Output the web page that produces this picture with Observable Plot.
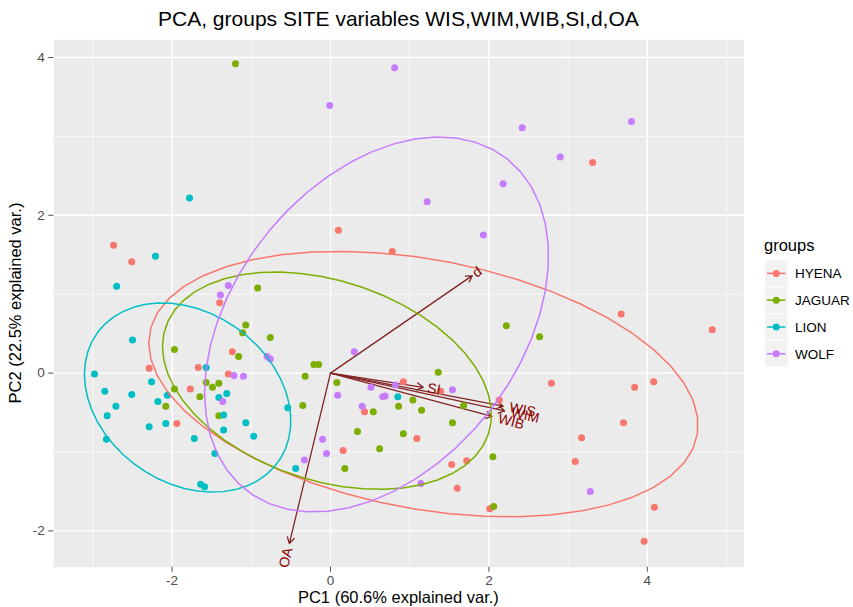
<!DOCTYPE html>
<html><head><meta charset="utf-8">
<script src="https://cdn.jsdelivr.net/npm/d3@7"></script>
<script src="https://cdn.jsdelivr.net/npm/@observablehq/plot@0.6"></script>
<style>body{margin:0;background:#fff;}</style>
</head><body><div id="chart"></div>
<script>
const groups = ["HYENA","JAGUAR","LION","WOLF"];
const colors = ["#F8766D","#7CAE00","#00BFC4","#C77CFF"];

const hyenaPC1 = [-2.74,-2.51,-1.40,0.10,0.78,3.31,3.67,4.82,2.79,3.84,4.08,3.70,3.17,3.09,4.09,3.96,2.01,2.13,-1.24,-1.67,-1.29,-1.77,-2.29,-1.94,0.92,1.39,0.43,1.09,0.16,1.53,1.72,1.60];
const hyenaPC2 = [1.62,1.41,0.89,1.81,1.54,2.67,0.75,0.55,-0.13,-0.18,-0.11,-0.63,-0.82,-1.12,-1.70,-2.13,-1.72,-0.34,0.27,0.07,-0.01,-0.20,0.06,-0.64,-0.11,-0.23,-0.49,-0.83,-0.98,-1.16,-1.11,-1.46];
const jaguarPC1 = [-1.20,-0.92,-1.07,-1.11,-0.76,-1.16,-1.97,-1.97,-1.57,-1.49,-1.41,-1.65,-2.08,-1.41,-0.21,-0.15,-0.32,-0.35,0.08,1.36,1.04,0.86,1.15,0.54,1.68,1.54,0.34,0.92,0.62,0.18,2.05,2.06,2.22,2.64];
const jaguarPC2 = [3.92,1.08,0.61,0.51,0.45,0.21,0.30,-0.20,-0.12,-0.18,-0.13,-0.30,-0.42,-0.54,0.11,0.11,-0.04,-0.41,-0.12,0.01,-0.34,-0.42,-0.47,-0.49,-0.41,-0.63,-0.74,-0.77,-0.96,-1.21,-1.06,-1.69,0.60,0.46];
const lionPC1 = [-1.78,-2.21,-2.70,-2.50,-2.98,-2.26,-1.57,-2.85,-2.51,-2.71,-2.82,-2.18,-2.06,-1.41,-1.31,-2.83,-2.29,-2.08,-1.35,-1.35,-1.07,-0.97,-1.72,-1.46,-1.64,-1.59,-0.54,-0.44,0.85];
const lionPC2 = [2.22,1.48,1.10,0.42,-0.01,-0.11,0.07,-0.23,-0.27,-0.42,-0.54,-0.36,-0.28,-0.31,-0.26,-0.84,-0.68,-0.64,-0.53,-0.72,-0.63,-0.80,-0.83,-1.02,-1.41,-1.44,-0.44,-1.21,-0.30];
const wolfPC1 = [0.81,-0.01,2.42,3.80,2.90,2.18,1.22,1.93,-1.29,-1.39,-0.80,-0.76,-1.22,-1.10,-1.36,0.30,0.09,0.51,0.82,1.54,0.66,0.69,0.40,-0.10,-0.05,-0.33,1.14,3.28];
const wolfPC2 = [3.87,3.39,3.11,3.19,2.74,2.40,2.17,1.75,1.11,0.99,0.21,0.18,-0.03,-0.04,-0.36,0.27,-0.28,-0.18,-0.15,-0.21,-0.30,-0.29,-0.42,-0.84,-1.02,-1.10,-1.40,-1.50];

const varNames = ["WIS","WIM","WIB","SI","d","OA"];
const varPC1 = [2.18,2.20,2.04,1.17,1.79,-0.52];
const varPC2 = [-0.42,-0.48,-0.55,-0.18,1.235,-2.16];

const xMajor = [-2,0,2,4], xMinor = [-3,-1,1,3,5];
const yMajor = [-2,0,2,4], yMinor = [-1,1,3];
const ellipseProb = 0.68;

const pc1s = [hyenaPC1, jaguarPC1, lionPC1, wolfPC1];
const pc2s = [hyenaPC2, jaguarPC2, lionPC2, wolfPC2];
const pts = [];
groups.forEach((g,i)=>pc1s[i].forEach((x,j)=>pts.push({group:g, x, y:pc2s[i][j]})));

// ggbiplot-style normal data ellipses
const ed = Math.sqrt(-2*Math.log(1-ellipseProb));
const theta = [...d3.range(50).map(i=>-Math.PI+2*Math.PI*i/49), ...d3.range(50).map(i=>Math.PI-2*Math.PI*i/49)];
const ell = [];
groups.forEach((g,i)=>{
  const xs = pc1s[i], ys = pc2s[i], n = xs.length;
  const mx = d3.mean(xs), my = d3.mean(ys);
  let a=0,b=0,c=0;
  for (let k=0;k<n;k++){const dx=xs[k]-mx, dy=ys[k]-my; a+=dx*dx; b+=dx*dy; c+=dy*dy;}
  a/=(n-1); b/=(n-1); c/=(n-1);
  const r11=Math.sqrt(a), r12=b/r11, r22=Math.sqrt(c-r12*r12);
  theta.forEach((t,k)=>ell.push({group:g, k, x: mx+ed*Math.cos(t)*r11, y: my+ed*(Math.cos(t)*r12+Math.sin(t)*r22)}));
});

const vars = varNames.map((v,i)=>({name:v, x:varPC1[i], y:varPC2[i], angle: 180/Math.PI*Math.atan(varPC2[i]/varPC1[i])}));

const labelSize = 14;
const labelMarks = vars.map(v=>{
  const s = Math.sign(v.x);
  const w = 0.62*labelSize*v.name.length;
  const a = v.angle*Math.PI/180;
  return Plot.text([v], {x:"x", y:"y", text:"name", rotate: -v.angle, fill:"darkred",
    fontSize: labelSize, textAnchor: s>0 ? "start" : "end",
    dx: s*0.25*w*Math.cos(a), dy: -s*0.25*w*Math.sin(a)});
});

const fmt = d => String(d);

const plot = Plot.plot({
  width: 853, height: 607,
  marginLeft: 53.3, marginRight: 109.5, marginTop: 39.3, marginBottom: 40.3,
  x: {domain: [-3.494, 5.221]},
  y: {domain: [-2.46, 4.224]},
  color: {domain: groups, range: colors},
  style: {fontFamily: "'Liberation Sans', Arial, sans-serif", fontSize: "13.5px", background: "white", overflow: "visible"},
  marks: [
    Plot.frame({fill: "#EBEBEB", stroke: "none"}),
    Plot.gridX(xMinor, {stroke: "white", strokeOpacity: 1, strokeWidth: 0.7}),
    Plot.gridY(yMinor, {stroke: "white", strokeOpacity: 1, strokeWidth: 0.7}),
    Plot.gridX(xMajor, {stroke: "white", strokeOpacity: 1, strokeWidth: 1.4}),
    Plot.gridY(yMajor, {stroke: "white", strokeOpacity: 1, strokeWidth: 1.4}),
    Plot.axisX(xMajor, {tickSize: 5, tickPadding: 3, color: "#4d4d4d", label: null, fontSize: 13.5, tickFormat: fmt}),
    Plot.axisY(yMajor, {tickSize: 5, tickPadding: 4, color: "#4d4d4d", label: null, fontSize: 13.5, tickFormat: fmt}),
    Plot.arrow(vars, {x1: ()=>0, y1: ()=>0, x2: "x", y2: "y", stroke: "#832424", strokeWidth: 1.3, headLength: 8}),
    Plot.dot(pts, {x: "x", y: "y", fill: "group", r: 3.5}),
    Plot.line(ell, {x: "x", y: "y", z: "group", stroke: "group", strokeWidth: 1.5, curve: "linear"}),
    ...labelMarks
  ]
});

const svg = d3.select(plot);
const font = "'Liberation Sans', Arial, sans-serif";
svg.append("text").attr("x", 398.4).attr("y", 26).attr("text-anchor","middle")
  .attr("font-size", 21).attr("font-family", font).attr("fill","black")
  .text("PCA, groups SITE variables WIS,WIM,WIB,SI,d,OA");
svg.append("text").attr("x", 398.4).attr("y", 603).attr("text-anchor","middle")
  .attr("font-size", 16.5).attr("font-family", font).attr("fill","black")
  .text("PC1 (60.6% explained var.)");
svg.append("text").attr("transform","translate(21,303) rotate(-90)").attr("text-anchor","middle")
  .attr("font-size", 16.5).attr("font-family", font).attr("fill","black")
  .text("PC2 (22.5% explained var.)");

const lg = svg.append("g").attr("font-family", font).attr("text-anchor","start");
lg.append("text").attr("x", 764).attr("y", 245).attr("dy","0.35em").attr("text-anchor","start").attr("font-size", 16.5).attr("fill","black").text("groups");
groups.forEach((g,i)=>{
  const cy = 273.4 + i*26.8;
  lg.append("rect").attr("x",764.5).attr("y",cy-13.4).attr("width",23.5).attr("height",26.8).attr("fill","#F2F2F2").attr("stroke","white").attr("stroke-width",1);
  lg.append("line").attr("x1",767).attr("x2",785.5).attr("y1",cy).attr("y2",cy).attr("stroke",colors[i]).attr("stroke-width",1.5);
  lg.append("circle").attr("cx",776.2).attr("cy",cy).attr("r",3.5).attr("fill",colors[i]);
  lg.append("text").attr("x",795).attr("y",cy).attr("dy","0.35em").attr("text-anchor","start").attr("font-size",13.5).attr("fill","black").text(g);
});

document.getElementById("chart").appendChild(plot);
</script>
</body></html>
